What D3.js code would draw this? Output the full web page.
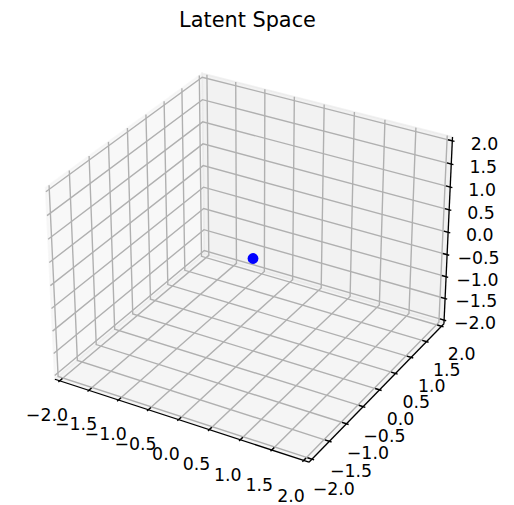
<!DOCTYPE html>
<html>
<head>
<meta charset="utf-8">
<script src="https://cdn.jsdelivr.net/npm/d3@7"></script>
<style>
  html, body { margin: 0; padding: 0; background: #ffffff; }
  svg { display: block; }
  text { font-family: "DejaVu Sans", sans-serif; fill: #000; }
</style>
</head>
<body>
<svg id="chart" width="514" height="505"></svg>
<script>
// ---- data ----
const chartTitle = "Latent Space";
const axisLimits = [-2, 2];                       // same limits on x, y and z
const tickValues = [-2, -1.5, -1, -0.5, 0, 0.5, 1, 1.5, 2];
const tickLabels = ["\u22122.0", "\u22121.5", "\u22121.0", "\u22120.5", "0.0", "0.5", "1.0", "1.5", "2.0"];
const latentX = [0];
const latentY = [0];
const latentZ = [0];

// ---- camera / projection (perspective view, elev 30, azim -60) ----
const elevDeg = 30, azimDeg = -60, camDist = 10;
const aspectNorm = 1.8294640721620434 / Math.hypot(4, 4, 3);
const boxA = [4 * aspectNorm, 4 * aspectNorm, 3 * aspectNorm];
const boxR = boxA.map(a => a / 2);
const el = elevDeg * Math.PI / 180, az = azimDeg * Math.PI / 180;
const wv = [Math.cos(el) * Math.cos(az), Math.cos(el) * Math.sin(az), Math.sin(el)];
let uv = [-wv[1], wv[0], 0];
const un = Math.hypot(uv[0], uv[1], uv[2]);
uv = uv.map(c => c / un);
const vv = [wv[1] * uv[2] - wv[2] * uv[1], wv[2] * uv[0] - wv[0] * uv[2], wv[0] * uv[1] - wv[1] * uv[0]];
const span = axisLimits[1] - axisLimits[0];
const dot = (a, b) => a[0] * b[0] + a[1] * b[1] + a[2] * b[2];

function project(x, y, z) {
  const p = [x, y, z].map((c, i) => (c - axisLimits[0]) * boxA[i] / span - boxR[i]);
  const den = camDist - dot(wv, p);
  return [dot(uv, p) / den, dot(vv, p) / den];
}

// projected plane -> pixels
const cx = 253, cy = 258.5, half = 244.5;
const sx = d3.scaleLinear().domain([-0.1, 0.1]).range([cx - half, cx + half]);
const sy = d3.scaleLinear().domain([-0.1, 0.1]).range([cy + half, cy - half]);
const toPx = p => { const q = project(p[0], p[1], p[2]); return [sx(q[0]), sy(q[1])]; };

const line = d3.line().x(d => toPx(d)[0]).y(d => toPx(d)[1]);

// pane extents: limits padded by 1/48 of the range on each side
const lo = axisLimits[0] - span / 48, hi = axisLimits[1] + span / 48;
const delta = (hi - lo) / 12;
const labelOffset = 0.345;

const svg = d3.select("#chart");

// ---- panes ----
const panes = [
  { color: "rgba(242,242,242,0.5)", pts: [[lo, lo, lo], [lo, hi, lo], [lo, hi, hi], [lo, lo, hi]] },   // x = min
  { color: "rgba(230,230,230,0.5)", pts: [[lo, hi, lo], [hi, hi, lo], [hi, hi, hi], [lo, hi, hi]] },   // y = max
  { color: "rgba(236,236,236,0.5)", pts: [[lo, lo, lo], [hi, lo, lo], [hi, hi, lo], [lo, hi, lo]] }    // z = min
];
svg.append("g").selectAll("path").data(panes).join("path")
  .attr("d", d => line(d.pts) + "Z")
  .attr("fill", d => d.color)
  .attr("stroke", d => d.color)
  .attr("stroke-width", 1.74)
  .attr("stroke-linejoin", "miter");

// ---- grid lines ----
const grid = svg.append("g").attr("fill", "none").attr("stroke", "#b0b0b0").attr("stroke-width", 1.39);
tickValues.forEach(t => {
  // x: front of floor -> back corner -> top of back pane
  grid.append("path").attr("d", line([[t, lo, lo], [t, hi, lo], [t, hi, hi]]));
  // y: top of left pane -> floor corner -> right of floor
  grid.append("path").attr("d", line([[lo, t, hi], [lo, t, lo], [hi, t, lo]]));
  // z: right of back pane -> back corner -> front of left pane
  grid.append("path").attr("d", line([[hi, hi, t], [lo, hi, t], [lo, lo, t]]));
});

// ---- axis lines ----
const axes = svg.append("g").attr("fill", "none").attr("stroke", "#000").attr("stroke-width", 1.3);
axes.append("path").attr("d", line([[lo, lo, lo], [hi, lo, lo]]));
axes.append("path").attr("d", line([[hi, lo, lo], [hi, hi, lo]]));
axes.append("path").attr("d", line([[hi, hi, lo], [hi, hi, hi]]));

// ---- ticks and tick labels ----
const tickG = svg.append("g").attr("fill", "none").attr("stroke", "#000").attr("stroke-width", 1.39);
const labelG = svg.append("g").attr("font-size", "17.36px").attr("text-anchor", "middle");
const outLen = 0.1 * delta, inLen = 0.2 * delta;
const baselineShift = 0.76 * 17.36;

function addLabel(p, txt) {
  const q = toPx(p);
  labelG.append("text").attr("x", q[0]).attr("y", q[1] + baselineShift).text(txt);
}

tickValues.forEach((t, i) => {
  // x axis: ticks along y
  tickG.append("path").attr("d", line([[t, lo - outLen, lo], [t, lo + inLen, lo]]));
  addLabel([t, lo - labelOffset, lo - labelOffset], tickLabels[i]);
  // y axis: ticks along x
  tickG.append("path").attr("d", line([[hi + outLen, t, lo], [hi - inLen, t, lo]]));
  addLabel([hi + labelOffset, t, lo - labelOffset], tickLabels[i]);
  // z axis: ticks along x
  tickG.append("path").attr("d", line([[hi + outLen, hi, t], [hi - inLen, hi, t]]));
  addLabel([hi + labelOffset, hi + labelOffset, t], tickLabels[i]);
});

// ---- latent point ----
svg.append("g").selectAll("circle").data(latentX.map((x, i) => [x, latentY[i], latentZ[i]]))
  .join("circle")
  .attr("cx", d => toPx(d)[0])
  .attr("cy", d => toPx(d)[1])
  .attr("r", 5.4)
  .attr("fill", "#0000ff");

// ---- title ----
svg.append("text")
  .attr("x", 247.5).attr("y", 26.9)
  .attr("text-anchor", "middle")
  .attr("font-size", "20.83px")
  .text(chartTitle);
</script>
</body>
</html>
